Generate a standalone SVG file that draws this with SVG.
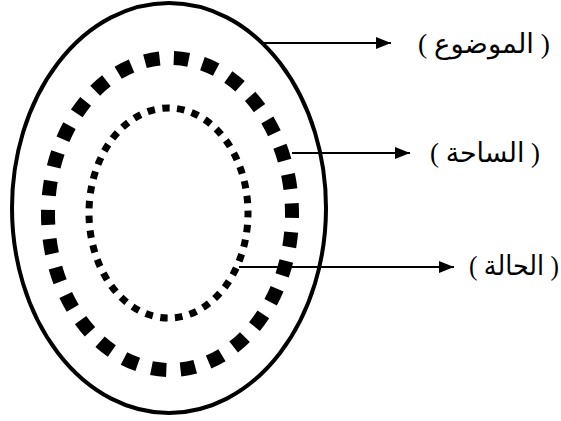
<svg xmlns="http://www.w3.org/2000/svg" width="561" height="421" viewBox="0 0 561 421">
  <style>
    .ring { fill: none; stroke: #000; }
    .link { stroke: #000; stroke-width: 2; fill: none; }
    .label { font-family: "Liberation Serif", "DejaVu Sans", serif; font-size: 27px; fill: #000; }
  </style>
  <defs>
    <marker id="head" markerWidth="15" markerHeight="12" refX="15" refY="6" orient="auto" markerUnits="userSpaceOnUse">
      <path d="M0,0 L15,6 L0,12 Z" fill="#000"/>
    </marker>
  </defs>
  <rect width="561" height="421" fill="#fff"/>

  <!-- outer solid ring -->
  <g id="topic">
    <ellipse class="ring" cx="169" cy="208" rx="157" ry="205" stroke-width="4"/>
  </g>
  <!-- middle ring of square dashes -->
  <g id="field">
    <ellipse class="ring" cx="170" cy="214" rx="122" ry="156" stroke-width="14" stroke-dasharray="15 14.22" stroke-dashoffset="11"/>
  </g>
  <!-- inner dotted ring -->
  <g id="case">
    <ellipse class="ring" cx="168.5" cy="213" rx="79.5" ry="105" stroke-width="7" stroke-dasharray="7.5 7.43" stroke-dashoffset="3"/>
  </g>

  <!-- pointers from each ring to its label -->
  <g id="connectors">
    <line class="link" x1="262" y1="43" x2="391" y2="43" marker-end="url(#head)"/>
    <line class="link" x1="292" y1="153" x2="410" y2="153" marker-end="url(#head)"/>
    <line class="link" x1="239" y1="267" x2="454" y2="267" marker-end="url(#head)"/>
  </g>

  <g id="labels">
    <text class="label" x="418" y="53" textLength="132" lengthAdjust="spacingAndGlyphs">( الموضوع )</text>
    <text class="label" x="430" y="162" textLength="110" lengthAdjust="spacingAndGlyphs">( الساحة )</text>
    <text class="label" x="469" y="275" textLength="90" lengthAdjust="spacingAndGlyphs">( الحالة )</text>
  </g>
</svg>
